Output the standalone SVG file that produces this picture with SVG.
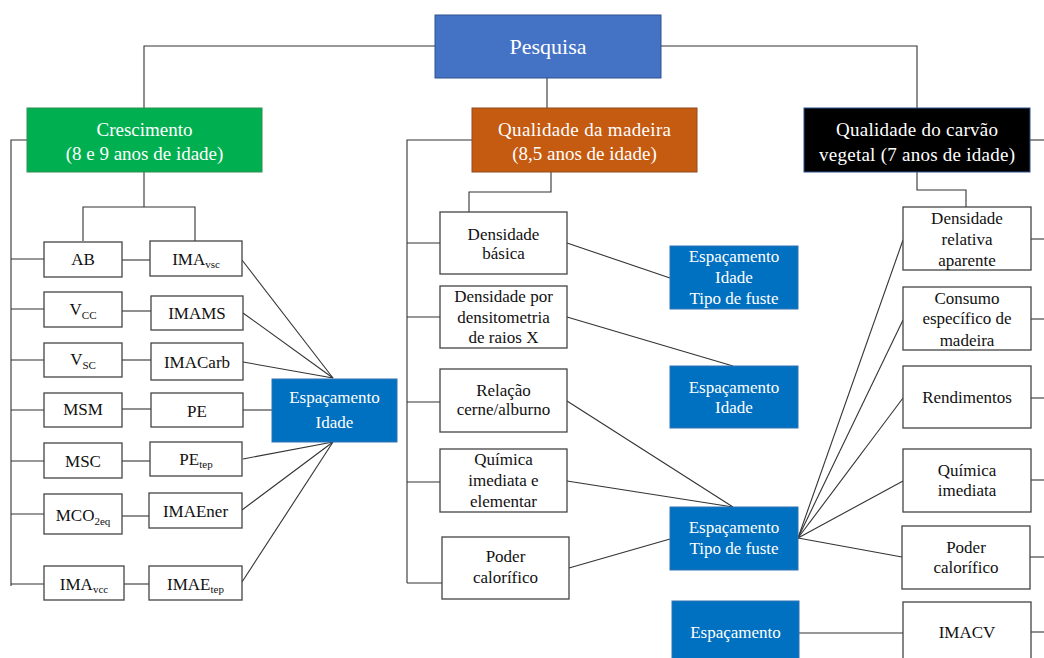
<svg xmlns="http://www.w3.org/2000/svg" width="1044" height="658" viewBox="0 0 1044 658">
<style>
.w{fill:#fff;stroke:#444;stroke-width:1.3;}
.b{fill:#0070C0;stroke:#2E75B6;stroke-width:1;}
.t{font-size:17px;fill:#111;}
.tw{font-size:17px;fill:#fff;}
.th{font-size:19px;fill:#fff;}
.s{font-size:11px;}
.c line,.c polyline{stroke:#333;stroke-width:1.1;fill:none;}
</style>
<rect width="1044" height="658" fill="#fff"/>
<g class="c" id="connectors">
<polyline points="435,46 144,46 144,108"/>
<polyline points="661,46 917,46 917,108"/>
<line x1="547" y1="78" x2="547" y2="108"/>
<polyline points="27,140 11,140 11,586"/>
<polyline points="144,172 144,207"/>
<polyline points="83,241 83,207 195,207 195,241"/>
<line x1="11" y1="259" x2="44" y2="259"/>
<line x1="11" y1="309" x2="44" y2="309"/>
<line x1="11" y1="360" x2="44" y2="360"/>
<line x1="11" y1="410" x2="44" y2="410"/>
<line x1="11" y1="461" x2="44" y2="461"/>
<line x1="11" y1="514" x2="44" y2="514"/>
<line x1="11" y1="584" x2="44" y2="584"/>
<line x1="122" y1="260" x2="150" y2="260"/>
<line x1="122" y1="311" x2="151" y2="311"/>
<line x1="122" y1="360" x2="151" y2="360"/>
<line x1="122" y1="409" x2="151" y2="409"/>
<line x1="122" y1="461" x2="150" y2="461"/>
<line x1="122" y1="516" x2="149" y2="516"/>
<line x1="124" y1="584" x2="149" y2="584"/>
<line x1="242" y1="260" x2="333" y2="378"/>
<line x1="243" y1="313" x2="333" y2="378"/>
<line x1="243" y1="362" x2="333" y2="378"/>
<line x1="243" y1="410" x2="272" y2="410"/>
<line x1="243" y1="459" x2="333" y2="442"/>
<line x1="242" y1="510" x2="333" y2="442"/>
<line x1="242" y1="582" x2="333" y2="442"/>
<polyline points="472,140 407,140 407,583"/>
<polyline points="551,172 551,192 469,192 469,212"/>
<line x1="407" y1="243" x2="440" y2="243"/>
<line x1="407" y1="317" x2="440" y2="317"/>
<line x1="407" y1="402" x2="440" y2="402"/>
<line x1="407" y1="482" x2="440" y2="482"/>
<line x1="407" y1="583" x2="442" y2="583"/>
<line x1="567" y1="243" x2="670" y2="278"/>
<line x1="567" y1="317" x2="733" y2="366"/>
<line x1="567" y1="401" x2="733" y2="507"/>
<line x1="567" y1="481" x2="733" y2="507"/>
<line x1="569" y1="568" x2="670" y2="539"/>
<polyline points="917,172 917,190 966,190 966,207"/>
<line x1="1030" y1="140" x2="1044" y2="140"/>
<line x1="798" y1="538" x2="903" y2="240"/>
<line x1="798" y1="538" x2="903" y2="320"/>
<line x1="798" y1="538" x2="903" y2="398"/>
<line x1="798" y1="538" x2="903" y2="481"/>
<line x1="798" y1="538" x2="902" y2="557"/>
<line x1="799" y1="633" x2="903" y2="633"/>
<line x1="1031" y1="239" x2="1044" y2="239"/>
<line x1="1031" y1="319" x2="1044" y2="319"/>
<line x1="1031" y1="398" x2="1044" y2="398"/>
<line x1="1031" y1="480" x2="1044" y2="480"/>
<line x1="1030" y1="557" x2="1044" y2="557"/>
<line x1="1031" y1="632" x2="1044" y2="632"/>
</g>
<g font-family="Liberation Serif, Times New Roman, serif" text-anchor="middle">
<g id="pesquisa"><rect x="435" y="15" width="226" height="63" fill="#4472C4" stroke="#2F528F"/><text x="548" y="54" font-size="22" fill="#fff">Pesquisa</text></g>
<g id="crescimento"><rect x="27" y="108" width="235" height="64" fill="#00B050" stroke="#2F8F4F"/><text class="th" x="144.5" y="136">Crescimento</text><text class="th" x="144.5" y="160">(8 e 9 anos de idade)</text></g>
<g id="madeira"><rect x="472" y="108" width="225" height="64" fill="#C55A11" stroke="#8F4A1F"/><text class="th" x="584.5" y="136" textLength="173">Qualidade da madeira</text><text class="th" x="584.5" y="160">(8,5 anos de idade)</text></g>
<g id="carvao"><rect x="804" y="108" width="226" height="64" fill="#000" stroke="#2F528F"/><text class="th" x="917" y="136" textLength="162">Qualidade do carvão</text><text class="th" x="917" y="161" textLength="196">vegetal (7 anos de idade)</text></g>
<g id="ab"><rect class="w" x="44" y="242" width="78" height="35"/><text class="t" x="83" y="265">AB</text></g>
<g id="imavsc"><rect class="w" x="150" y="241" width="92" height="35"/><text class="t" x="196" y="265">IMA<tspan class="s" dy="3">vsc</tspan></text></g>
<g id="vcc"><rect class="w" x="44" y="292" width="78" height="35"/><text class="t" x="83" y="315">V<tspan class="s" dy="4">CC</tspan></text></g>
<g id="imams"><rect class="w" x="151" y="296" width="92" height="34"/><text class="t" x="197" y="319">IMAMS</text></g>
<g id="vsc"><rect class="w" x="44" y="343" width="78" height="34"/><text class="t" x="83" y="365">V<tspan class="s" dy="4">SC</tspan></text></g>
<g id="imacarb"><rect class="w" x="151" y="343" width="92" height="37"/><text class="t" x="197" y="368">IMACarb</text></g>
<g id="msm"><rect class="w" x="44" y="393" width="78" height="34"/><text class="t" x="83" y="415">MSM</text></g>
<g id="pe"><rect class="w" x="151" y="393" width="92" height="34"/><text class="t" x="197" y="417">PE</text></g>
<g id="msc"><rect class="w" x="44" y="443" width="78" height="35"/><text class="t" x="83" y="467">MSC</text></g>
<g id="petep"><rect class="w" x="150" y="442" width="92" height="34"/><text class="t" x="196" y="465">PE<tspan class="s" dy="3">tep</tspan></text></g>
<g id="mco2"><rect class="w" x="44" y="494" width="78" height="40"/><text class="t" x="83" y="521">MCO<tspan class="s" dy="4">2eq</tspan></text></g>
<g id="imaener"><rect class="w" x="149" y="493" width="93" height="35"/><text class="t" x="195.5" y="517">IMAEner</text></g>
<g id="imavcc"><rect class="w" x="44" y="566" width="80" height="34"/><text class="t" x="84" y="590">IMA<tspan class="s" dy="3">vcc</tspan></text></g>
<g id="imaetep"><rect class="w" x="149" y="566" width="93" height="34"/><text class="t" x="195.5" y="590">IMAE<tspan class="s" dy="3">tep</tspan></text></g>
<g id="esp-idade-1"><rect class="b" x="272" y="379" width="125" height="63"/><text class="tw" x="334.5" y="403">Espaçamento</text><text class="tw" x="334.5" y="428">Idade</text></g>
<g id="dens-basica"><rect class="w" x="440" y="212" width="127" height="62"/><text class="t" x="503.5" y="240">Densidade</text><text class="t" x="503.5" y="259">básica</text></g>
<g id="dens-raiox"><rect class="w" x="440" y="286" width="127" height="62"/><text class="t" x="503.5" y="302">Densidade por</text><text class="t" x="503.5" y="323">densitometria</text><text class="t" x="503.5" y="343">de raios X</text></g>
<g id="relacao"><rect class="w" x="440" y="369" width="127" height="63"/><text class="t" x="503.5" y="396">Relação</text><text class="t" x="503.5" y="415">cerne/alburno</text></g>
<g id="quimica-el"><rect class="w" x="440" y="449" width="127" height="63"/><text class="t" x="503.5" y="465">Química</text><text class="t" x="503.5" y="486">imediata  e</text><text class="t" x="503.5" y="507">elementar</text></g>
<g id="poder-1"><rect class="w" x="442" y="537" width="127" height="62"/><text class="t" x="505.5" y="562">Poder</text><text class="t" x="505.5" y="583">calorífico</text></g>
<g id="esp-idade-tipo"><rect class="b" x="670" y="246" width="128" height="63"/><text class="tw" x="734" y="262">Espaçamento</text><text class="tw" x="734" y="283">Idade</text><text class="tw" x="734" y="304">Tipo de fuste</text></g>
<g id="esp-idade-2"><rect class="b" x="670" y="366" width="128" height="62"/><text class="tw" x="734" y="393">Espaçamento</text><text class="tw" x="734" y="413">Idade</text></g>
<g id="esp-tipo"><rect class="b" x="670" y="507" width="128" height="63"/><text class="tw" x="734" y="533">Espaçamento</text><text class="tw" x="734" y="554">Tipo de fuste</text></g>
<g id="esp"><rect class="b" x="672" y="601" width="127" height="62"/><text class="tw" x="735.5" y="638">Espaçamento</text></g>
<g id="dens-rel"><rect class="w" x="903" y="207" width="128" height="63"/><text class="t" x="967" y="224">Densidade</text><text class="t" x="967" y="245">relativa</text><text class="t" x="967" y="266">aparente</text></g>
<g id="consumo"><rect class="w" x="903" y="287" width="128" height="63"/><text class="t" x="967" y="304">Consumo</text><text class="t" x="967" y="324">específico de</text><text class="t" x="967" y="346">madeira</text></g>
<g id="rendimentos"><rect class="w" x="903" y="366" width="128" height="62"/><text class="t" x="967" y="403">Rendimentos</text></g>
<g id="quimica"><rect class="w" x="903" y="449" width="128" height="63"/><text class="t" x="967" y="476">Química</text><text class="t" x="967" y="496">imediata</text></g>
<g id="poder-2"><rect class="w" x="902" y="526" width="128" height="63"/><text class="t" x="966" y="553">Poder</text><text class="t" x="966" y="573">calorífico</text></g>
<g id="imacv"><rect class="w" x="903" y="602" width="128" height="62"/><text class="t" x="967" y="638">IMACV</text></g>
</g>
</svg>
